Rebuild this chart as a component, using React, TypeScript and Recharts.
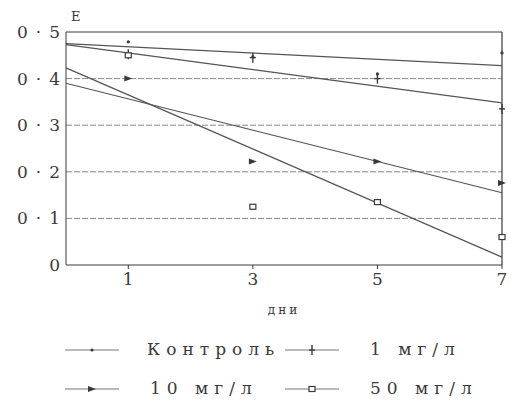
import React from "react";
import {
  ComposedChart,
  Line,
  Scatter,
  XAxis,
  YAxis,
  CartesianGrid,
  ReferenceLine,
} from "recharts";

// measured points (days 1, 3, 5, 7)
const days = [1, 3, 5, 7];
const controlPts = [0.479, 0.447, 0.41, 0.455];
const mg1Pts = [0.452, 0.445, 0.4, 0.335];
const mg10Pts = [0.4, 0.222, 0.222, 0.176];
const mg50Pts = [0.45, 0.125, 0.135, 0.06];

// fitted trend lines, value at day 0 and day 7
const trendDays = [0, 7];
const controlTrend = [0.475, 0.428];
const mg1Trend = [0.473, 0.348];
const mg10Trend = [0.39, 0.155];
const mg50Trend = [0.423, 0.017];

const yTicks = [0, 0.1, 0.2, 0.3, 0.4, 0.5];
const xTicks = [1, 3, 5, 7];

const INK = "#3a3a3a";
const LINE = "#555";
const FONT = "'DejaVu Serif', 'Liberation Serif', serif";

const toPoints = (xs: number[], ys: number[]) =>
  xs.map((x, i) => ({ x, y: ys[i] }));

const DotMark = ({ cx, cy }: any) => <circle cx={cx} cy={cy} r={1.6} fill={INK} />;

const PlusMark = ({ cx, cy }: any) => (
  <g stroke={INK} strokeWidth={1.4}>
    <line x1={cx - 3} y1={cy} x2={cx + 3} y2={cy} />
    <line x1={cx} y1={cy - 5} x2={cx} y2={cy + 5} />
  </g>
);

const ArrowMark = ({ cx, cy }: any) => (
  <path d={`M${cx - 4},${cy - 3} L${cx + 4},${cy} L${cx - 4},${cy + 3} Z`} fill={INK} />
);

const SquareMark = ({ cx, cy }: any) => (
  <rect x={cx - 3} y={cy - 2.5} width={6} height={5} fill="#fff" stroke={INK} strokeWidth={1.2} />
);

const fmtY = (v: number) => (v === 0 ? "0" : "0·" + Math.round(v * 10));

const legendItems = [
  { label: "Контроль", Mark: DotMark },
  { label: "1 мг/л", Mark: PlusMark },
  { label: "10 мг/л", Mark: ArrowMark },
  { label: "50 мг/л", Mark: SquareMark },
];

const LegendIcon = ({ Mark }: any) => (
  <svg width={54} height={12} style={{ display: "block" }}>
    <line x1={0} y1={6} x2={54} y2={6} stroke="#777" strokeWidth={1} />
    <Mark cx={27} cy={6} />
  </svg>
);

export default function App() {
  return (
    <div style={{ position: "absolute", left: 0, top: 0, width: 511, height: 403, background: "#fff" }}>
      <ComposedChart width={511} height={403} margin={{ top: 32, right: 9, left: 0, bottom: 83 }}>
        <CartesianGrid vertical={false} horizontalValues={[0.1, 0.2, 0.3, 0.4]} stroke="#888" strokeDasharray="6 2" />
        <XAxis
          dataKey="x"
          type="number"
          domain={[0, 7]}
          ticks={xTicks}
          allowDuplicatedCategory={false}
          height={55}
          stroke={INK}
          tickSize={4}
          tickMargin={4}
          tick={{ fill: INK, fontFamily: FONT, fontSize: 17 }}
          label={{ value: "дни", position: "insideBottom", offset: 6, fill: INK, fontFamily: FONT, fontSize: 12, letterSpacing: 3 }}
        />
        <YAxis
          dataKey="y"
          type="number"
          domain={[0, 0.5]}
          ticks={yTicks}
          width={66}
          stroke={INK}
          tickLine={false}
          tickSize={0}
          tickMargin={-2}
          tickFormatter={fmtY}
          tick={{ fill: INK, fontFamily: FONT, fontSize: 17, letterSpacing: 8 }}
        />
        <ReferenceLine y={0.5} stroke={INK} strokeWidth={1.2} />
        <ReferenceLine x={7} stroke={INK} strokeWidth={1.2} />
        <Line data={toPoints(trendDays, controlTrend)} dataKey="y" stroke={LINE} strokeWidth={1.2} dot={false} isAnimationActive={false} />
        <Line data={toPoints(trendDays, mg1Trend)} dataKey="y" stroke={LINE} strokeWidth={1.2} dot={false} isAnimationActive={false} />
        <Line data={toPoints(trendDays, mg10Trend)} dataKey="y" stroke={LINE} strokeWidth={1.2} dot={false} isAnimationActive={false} />
        <Line data={toPoints(trendDays, mg50Trend)} dataKey="y" stroke={LINE} strokeWidth={1.2} dot={false} isAnimationActive={false} />
        <Scatter data={toPoints(days, controlPts)} shape={<DotMark />} isAnimationActive={false} />
        <Scatter data={toPoints(days, mg1Pts)} shape={<PlusMark />} isAnimationActive={false} />
        <Scatter data={toPoints(days, mg10Pts)} shape={<ArrowMark />} isAnimationActive={false} />
        <Scatter data={toPoints(days, mg50Pts)} shape={<SquareMark />} isAnimationActive={false} />
      </ComposedChart>

      <div style={{ position: "absolute", left: 71, top: 9, fontFamily: FONT, fontSize: 13, color: INK }}>E</div>

      <div
        style={{
          position: "absolute",
          left: 65,
          top: 338,
          display: "grid",
          gridTemplateColumns: "54px 166px 54px 160px",
          rowGap: 16,
          alignItems: "center",
          fontFamily: FONT,
          fontSize: 17,
          letterSpacing: 6,
          color: INK,
          lineHeight: "23px",
        }}
      >
        {legendItems.map((it) => (
          <React.Fragment key={it.label}>
            <LegendIcon Mark={it.Mark} />
            <span style={{ paddingLeft: it.label === "Контроль" ? 28 : 31, whiteSpace: "nowrap" }}>{it.label}</span>
          </React.Fragment>
        ))}
      </div>
    </div>
  );
}
